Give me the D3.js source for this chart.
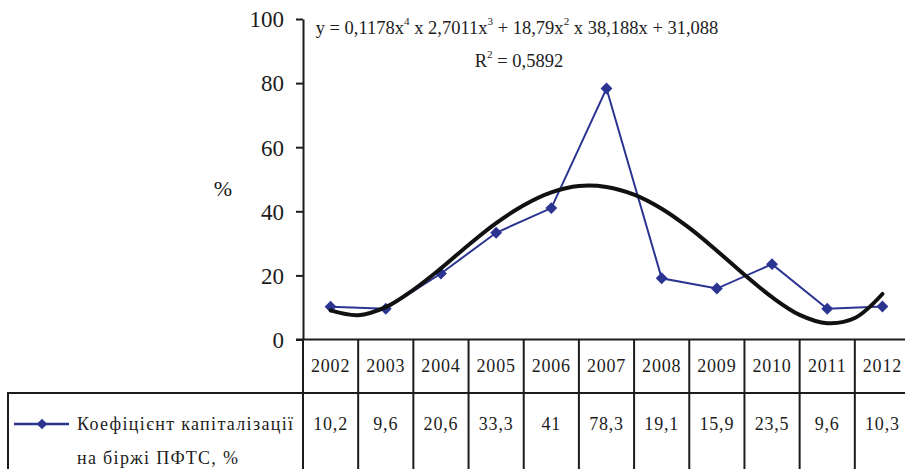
<!DOCTYPE html>
<html><head><meta charset="utf-8">
<script src="https://cdn.jsdelivr.net/npm/d3@7/dist/d3.min.js"></script>
</head>
<body style="margin:0;background:#fff">
<svg id="fig" width="905" height="469"></svg>
<script>
const years = ["2002","2003","2004","2005","2006","2007","2008","2009","2010","2011","2012"];
const values = [10.2, 9.6, 20.6, 33.3, 41, 78.3, 19.1, 15.9, 23.5, 9.6, 10.3];
const valueLabels = ["10,2","9,6","20,6","33,3","41","78,3","19,1","15,9","23,5","9,6","10,3"];
// trend line values read at half-year steps (position 1 = 2002 ... 11 = 2012)
const trendX = [1,1.5,2,2.5,3,3.5,4,4.5,5,5.5,6,6.5,7,7.5,8,8.5,9,9.5,10,10.5,11];
const trendY = [9.1,7.6,10.1,15.5,22.2,29.5,36.3,41.9,45.9,47.9,47.6,45.2,40.8,34.8,27.7,20.2,13.2,7.7,5.1,6.7,14.2];
const yTicks = [0,20,40,60,80,100];
const seriesName = ["Коефіцієнт капіталізації","на біржі ПФТС, %"];
// equation pieces: [text, isSuperscript]
const equationParts = [["y = 0,1178x",false],["4",true],[" x 2,7011x",false],["3",true],[" + 18,79x",false],["2",true],[" x 38,188x + 31,088",false]];
const r2Parts = [["R",false],["2",true],[" = 0,5892",false]];

const FONT = "Liberation Serif";
const svg = d3.select("#fig");
const ink = "#1c1c1c";
const blue = "#2b3491";
function txt(sel, size) {
  return sel.attr("font-family", FONT).attr("font-size", size)
    .style("font-family", "'Liberation Serif', serif").style("font-size", size + "px");
}

const x = d3.scaleBand().domain(years).range([303, 910]).padding(0);
const y = d3.scaleLinear().domain([0, 100]).range([339.5, 19]);
const xt = d3.scaleLinear().domain([1, 11]).range([x("2002") + x.bandwidth()/2, x("2012") + x.bandwidth()/2]);

// Y axis
const yAxis = d3.axisLeft(y).tickValues(yTicks).tickSize(7).tickPadding(12).tickSizeOuter(0);
const gy = svg.append("g").attr("transform", "translate(303,0)").call(yAxis);
gy.attr("font-family", FONT);
gy.select(".domain").attr("stroke", ink).attr("stroke-width", 2);
gy.selectAll(".tick line").attr("stroke", ink).attr("stroke-width", 2);
txt(gy.selectAll(".tick text"), 23).attr("fill", ink).attr("dy", "0.34em");

// % label
txt(svg.append("text"), 22).attr("x", 223).attr("y", 196).attr("text-anchor", "middle").attr("fill", ink).text("%");

// Table / x axis lines
const tbl = svg.append("g").attr("stroke", ink).attr("stroke-width", 2);
tbl.append("line").attr("x1", 296).attr("x2", 905).attr("y1", y(0)).attr("y2", y(0));
tbl.append("line").attr("x1", 7).attr("x2", 905).attr("y1", 393).attr("y2", 393);
tbl.append("line").attr("x1", 8).attr("x2", 8).attr("y1", 393).attr("y2", 469);
tbl.selectAll("line.v").data(years).enter().append("line").attr("class", "v")
  .attr("x1", d => x(d)).attr("x2", d => x(d)).attr("y1", y(0)).attr("y2", 469);

// year labels
txt(svg.append("g").selectAll("text").data(years).enter().append("text"), 18)
  .attr("x", d => x(d) + x.bandwidth()/2).attr("y", 372).attr("text-anchor", "middle")
  .attr("fill", ink).attr("letter-spacing", 0.8).text(d => d);

// value labels
txt(svg.append("g").selectAll("text").data(valueLabels).enter().append("text"), 18)
  .attr("x", (d, i) => x(years[i]) + x.bandwidth()/2).attr("y", 430).attr("text-anchor", "middle")
  .attr("fill", ink).attr("letter-spacing", 0.8).text(d => d);

// legend in table
svg.append("line").attr("x1", 14).attr("x2", 69).attr("y1", 424).attr("y2", 424)
  .attr("stroke", blue).attr("stroke-width", 2.5);
svg.append("path").attr("d", d3.symbol(d3.symbolDiamond2, 70)()).attr("transform", "translate(42,424)")
  .attr("fill", blue);
const lg1 = txt(svg.append("text"), 18).attr("x", 77).attr("y", 430).attr("fill", ink).text(seriesName[0]);
const lg2 = txt(svg.append("text"), 18).attr("x", 77).attr("y", 464).attr("fill", ink).text(seriesName[1]);
// spread legend text to reference width (~216px for first line)
const w1 = lg1.node().getComputedTextLength();
const ls = Math.max(0, (216 - w1) / (seriesName[0].length - 1));
lg1.attr("letter-spacing", ls);
lg2.attr("letter-spacing", ls);

// data series
const line = d3.line().x((d, i) => x(years[i]) + x.bandwidth()/2).y(d => y(d));
svg.append("path").datum(values).attr("d", line).attr("fill", "none").attr("stroke", blue).attr("stroke-width", 2);
svg.append("g").selectAll("path").data(values).enter().append("path")
  .attr("d", d3.symbol(d3.symbolDiamond2, 90)())
  .attr("transform", (d, i) => `translate(${x(years[i]) + x.bandwidth()/2},${y(d)})`)
  .attr("fill", blue);

// trend line
const trend = d3.line().x((d, i) => xt(trendX[i])).y(d => y(d)).curve(d3.curveCatmullRom);
svg.append("path").datum(trendY).attr("d", trend).attr("fill", "none").attr("stroke", "#111").attr("stroke-width", 4)
  .attr("stroke-linejoin", "round").attr("stroke-linecap", "round");

// equation
function richText(parts, cx, cy, size) {
  const t = txt(svg.append("text"), size).attr("x", cx).attr("y", cy).attr("fill", ink);
  parts.forEach(([s, sup], i) => {
    const ts = t.append("tspan").text(s);
    if (sup) ts.attr("dy", -size * 0.5).attr("font-size", size * 0.6).style("font-size", (size * 0.6) + "px");
    else if (i > 0 && parts[i - 1][1]) ts.attr("dy", size * 0.5);
  });
  const w = t.node().getComputedTextLength();
  t.attr("x", cx - w / 2);
  return t;
}
richText(equationParts, 517, 34, 18.5);
richText(r2Parts, 519, 67, 18.5);
</script>
</body></html>
